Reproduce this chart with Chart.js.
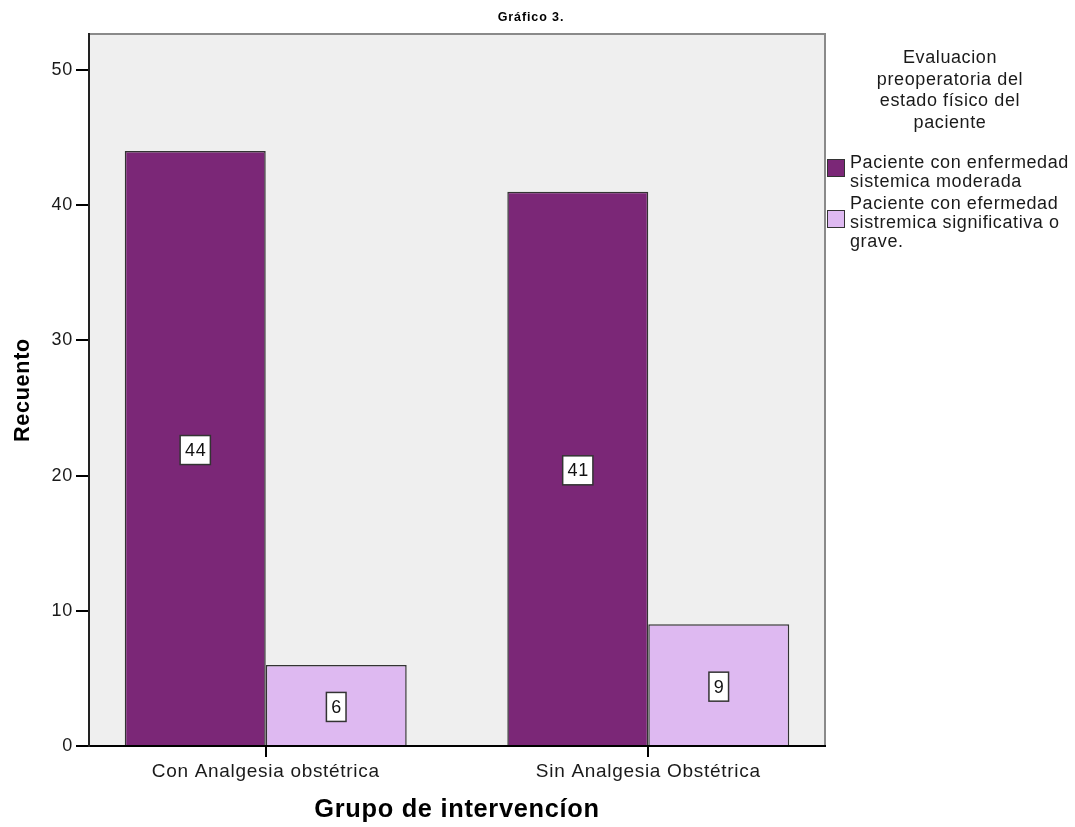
<!DOCTYPE html>
<html>
<head>
<meta charset="utf-8">
<script src="https://cdn.jsdelivr.net/npm/chart.js@4/dist/chart.umd.min.js"></script>
<style>
html, body { margin:0; padding:0; background:#fff; overflow:hidden; }
#wrap { position:relative; width:1075px; height:827px; font-family:"Liberation Sans", Arial, sans-serif; }
#c { position:absolute; left:0; top:0; }
#title { position:absolute; top:10px; left:0; width:1062px; text-align:center; font-weight:bold; font-size:12.5px; line-height:14px; letter-spacing:0.9px; color:#000; }
#legend { position:absolute; left:827px; top:47px; width:250px; color:#1a1a1a; font-size:18px; letter-spacing:0.6px; }
#legend .lt { width:196px; margin-left:25px; text-align:center; line-height:21.5px; }
#legend .items { margin-top:19.5px; }
#legend .it { display:flex; align-items:center; margin-bottom:3px; }
#legend .sw { width:18px; height:18px; box-sizing:border-box; border:1.5px solid #333; margin-right:5px; margin-bottom:7px; flex:none; }
#legend .tx { width:226px; line-height:19px; }
</style>
</head>
<body>
<div id="wrap">
  <canvas id="c" width="1075" height="827"></canvas>
  <div id="title"></div>
  <div id="legend"></div>
</div>
<script>
// ---- data ----
const chartTitle = 'Gráfico 3.';
const categories = ['Con Analgesia obstétrica', 'Sin Analgesia Obstétrica'];
const seriesNames = ['Paciente con enfermedad sistemica moderada', 'Paciente con efermedad sistremica significativa o grave.'];
const moderada = [44, 41];
const grave = [6, 9];
const yTicks = [0, 10, 20, 30, 40, 50];
const xTitle = 'Grupo de intervencíon';
const yTitle = 'Recuento';
const legendTitle = 'Evaluacion preoperatoria del estado físico del paciente';
const seriesColors = ['#7B2777', '#DEB9F1'];

const FONT = '"Liberation Sans", Arial, sans-serif';
const SPACING = '0.7px';
const series = [moderada, grave];

const spacingPlugin = {
  id: 'spacing',
  beforeLayout(chart) { chart.ctx.letterSpacing = SPACING; },
  beforeDraw(chart) { chart.ctx.letterSpacing = SPACING; }
};

const bgPlugin = {
  id: 'plotBg',
  beforeDraw(chart) {
    const { ctx, chartArea: a } = chart;
    ctx.save();
    ctx.fillStyle = '#EFEFEF';
    ctx.fillRect(a.left, a.top, a.right - a.left, a.bottom - a.top);
    ctx.strokeStyle = '#8a8a8a';
    ctx.lineWidth = 2;
    ctx.beginPath();
    ctx.moveTo(a.left, a.top);
    ctx.lineTo(a.right, a.top);
    ctx.lineTo(a.right, a.bottom);
    ctx.stroke();
    ctx.restore();
  }
};

const boxLabelPlugin = {
  id: 'boxLabels',
  afterDatasetsDraw(chart) {
    const ctx = chart.ctx;
    ctx.save();
    ctx.letterSpacing = '0.6px';
    ctx.font = '18px ' + FONT;
    ctx.textAlign = 'center';
    ctx.textBaseline = 'middle';
    chart.data.datasets.forEach((ds, di) => {
      const meta = chart.getDatasetMeta(di);
      meta.data.forEach((bar, i) => {
        const { x, y, base } = bar.getProps(['x', 'y', 'base'], true);
        const txt = String(series[di][i]);
        const w = ctx.measureText(txt).width + 9;
        const h = 29;
        const cy = (y + base) / 2 + 2;
        ctx.fillStyle = '#fff';
        ctx.fillRect(x - w / 2, cy - h / 2, w, h);
        ctx.strokeStyle = '#333';
        ctx.lineWidth = 1.5;
        ctx.strokeRect(x - w / 2, cy - h / 2, w, h);
        ctx.fillStyle = '#111';
        ctx.fillText(txt, x + 0.4, cy + 1);
      });
    });
    ctx.restore();
  }
};

const datasets = series.map((vals, si) => ({
  label: seriesNames[si],
  data: vals.map((v, i) => ({ x: i, y: v })),
  backgroundColor: seriesColors[si],
  borderColor: '#333',
  borderWidth: 1.5,
  borderSkipped: 'bottom',
  categoryPercentage: 0.737,
  barPercentage: 1.0
}));

new Chart(document.getElementById('c'), {
  type: 'bar',
  data: { datasets },
  options: {
    responsive: false,
    devicePixelRatio: 1,
    animation: false,
    layout: { padding: { left: 0, top: 34, right: 250, bottom: 0 } },
    plugins: {
      legend: { display: false },
      title: { display: false },
      tooltip: { enabled: false }
    },
    scales: {
      x: {
        type: 'linear',
        min: -0.462,
        max: 1.462,
        offset: false,
        afterBuildTicks: (scale) => { scale.ticks = categories.map((c, i) => ({ value: i })); },
        afterFit: (scale) => { scale.height = 81; },
        grid: { display: true, offset: false, drawOnChartArea: false, drawTicks: true, tickLength: 11, color: '#000', lineWidth: 2 },
        border: { display: true, color: '#000', width: 2 },
        ticks: {
          autoSkip: false,
          maxRotation: 0,
          padding: 3,
          color: '#1a1a1a',
          font: { family: FONT, size: 19 },
          callback: (v) => categories[Math.round(v)] ?? ''
        },
        title: {
          display: true,
          text: xTitle,
          color: '#000',
          font: { family: FONT, size: 25.4, weight: 'bold' },
          padding: { top: 0, bottom: 2 }
        }
      },
      y: {
        min: 0,
        max: 52.66,
        afterBuildTicks: (scale) => { scale.ticks = yTicks.map(v => ({ value: v })); },
        afterFit: (scale) => { scale.width = 89; },
        grid: { display: true, drawOnChartArea: false, drawTicks: true, tickLength: 13, color: '#000', lineWidth: 2 },
        border: { display: true, color: '#222', width: 2 },
        ticks: {
          padding: 3,
          color: '#1a1a1a',
          font: { family: FONT, size: 18 }
        },
        title: {
          display: true,
          text: yTitle,
          color: '#000',
          font: { family: FONT, size: 21.6, weight: 'bold' },
          padding: { top: 10, bottom: 0 }
        }
      }
    }
  },
  plugins: [spacingPlugin, bgPlugin, boxLabelPlugin]
});

// HTML title & legend (built from the data arrays)
document.getElementById('title').textContent = chartTitle;
const lg = document.getElementById('legend');
const lt = document.createElement('div');
lt.className = 'lt';
lt.textContent = legendTitle;
lg.appendChild(lt);
const items = document.createElement('div');
items.className = 'items';
seriesNames.forEach((name, i) => {
  const it = document.createElement('div');
  it.className = 'it';
  const sw = document.createElement('div');
  sw.className = 'sw';
  sw.style.background = seriesColors[i];
  const tx = document.createElement('div');
  tx.className = 'tx';
  tx.textContent = name;
  it.appendChild(sw);
  it.appendChild(tx);
  items.appendChild(it);
});
lg.appendChild(items);
</script>
</body>
</html>
